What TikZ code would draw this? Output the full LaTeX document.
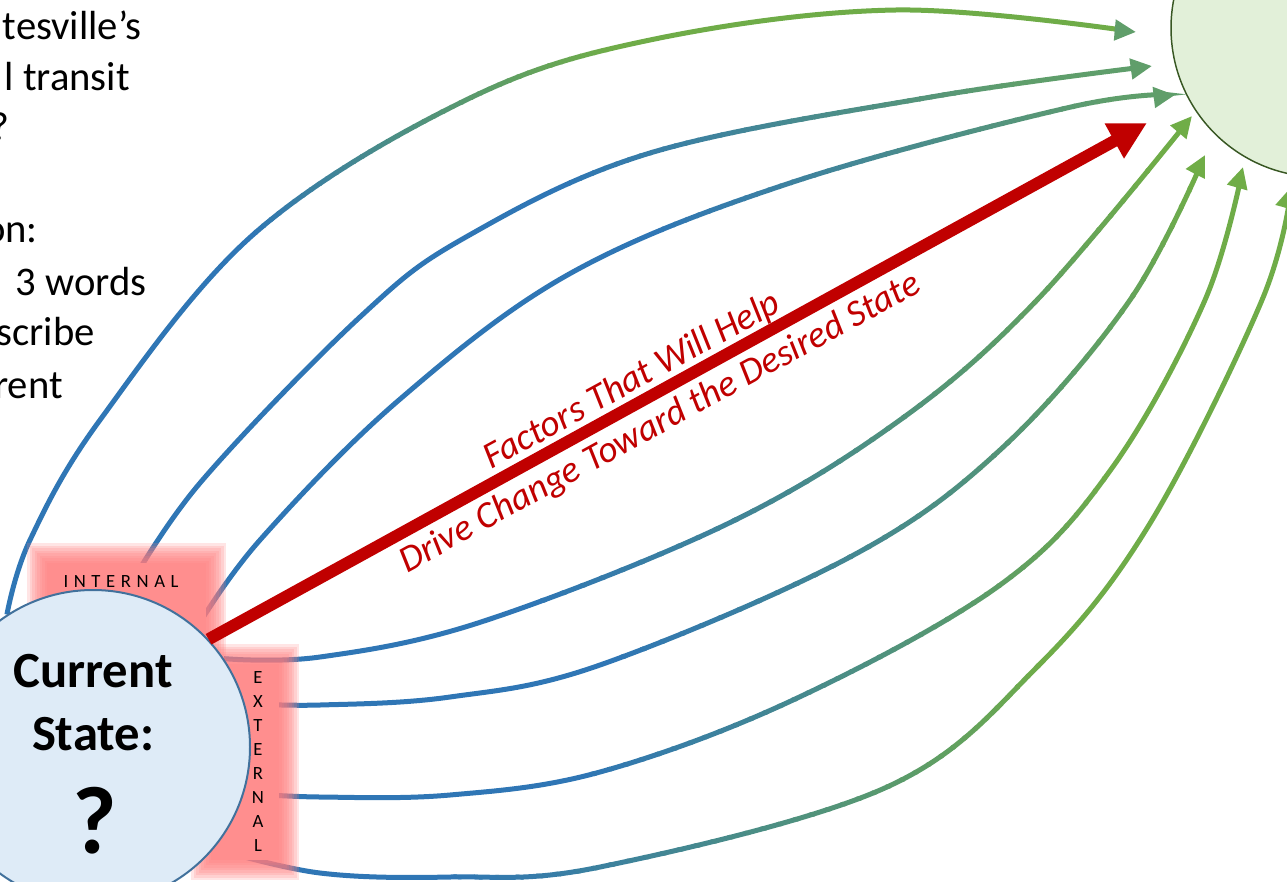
\documentclass[tikz,border=0pt]{standalone}
\usepackage{fontspec}
\setmainfont{Carlito}
\usetikzlibrary{arrows.meta,calc}

\definecolor{flowblue}{RGB}{46,117,182}
\definecolor{flowgreen}{RGB}{112,173,71}
\definecolor{flowsage}{RGB}{96,158,106}
\definecolor{pushred}{RGB}{192,0,0}
\definecolor{curfill}{RGB}{222,235,247}
\definecolor{curedge}{RGB}{65,113,156}
\definecolor{desfill}{RGB}{226,240,217}
\definecolor{desedge}{RGB}{56,87,35}
\definecolor{glowpink}{RGB}{255,125,125}
\definecolor{glowcore}{RGB}{255,142,142}

\pgfdeclarelayer{back}
\pgfsetlayers{back,main}

\tikzset{
  state/.style={circle, inner sep=0pt, line width=1.5pt},
  flowstroke/.style={line width=3.75pt, shorten >=10pt},
  flowtip/.style={line width=3.75pt, -{Triangle[length=16pt,width=15pt]}},
  push/.style={pushred, line width=9pt, -{Triangle[length=28pt,width=28pt]}},
  pushlbl/.style={text=pushred, font=\itshape\fontsize{28}{34}\selectfont, rotate=28.7, anchor=base, inner sep=0pt},
  lefttext/.style={font=\fontsize{30.5}{37}\selectfont, anchor=base east, inner sep=0pt},
  sidelbl/.style={font=\fontsize{14}{16}\selectfont, inner sep=0pt},
  glow/.style={glowpink, opacity=.2}
}

% #1 = points, #2 -> #3 = colour ramp (blue to #4)
\newcommand{\flowline}[4]{%
  \coordinate (gfar) at ($(#2)!3!(#3)$);
  \foreach \k in {0,...,39} {
    \pgfmathsetmacro\kf{ifthenelse(\k==0,-4,\k/40)}
    \pgfmathsetmacro\kg{ifthenelse(\k==39,2,(\k+1)/40+0.004)}
    \pgfmathsetmacro\kc{(\k+0.5)*2.5}
    \begin{scope}
      \clip ($(#2)!\kf!(#3)!3000pt!90:(gfar)$) -- ($(#2)!\kf!(#3)!3000pt!-90:(gfar)$)
        -- ($(#2)!\kg!(#3)!3000pt!-90:(gfar)$) -- ($(#2)!\kg!(#3)!3000pt!90:(gfar)$) -- cycle;
      \draw[flowstroke, #4!\kc!flowblue] plot[smooth, tension=0.6] coordinates {#1};
    \end{scope}
  }%
}

\begin{document}
\begin{tikzpicture}[x=0.75pt, y=-0.75pt]
  \useasboundingbox (0,0) rectangle (1287,881);

  % the two states
  \node[state, draw=curedge, fill=curfill, minimum size=235.5pt] (cur) at (93,747) {};
  \node[state, draw=desedge, fill=desfill, line width=1.1pt, minimum size=223.5pt] (des) at (1320,28) {};

  % arrow ends
  \coordinate (a1end) at (1136,32);
  \coordinate (a2end) at (1152,66);
  \coordinate (a3end) at (1175,95);
  \coordinate (l1end) at (1192,116);
  \coordinate (l2end) at (1205,155);
  \coordinate (l3end) at (1243,167);
  \coordinate (l4end) at (1291,187);
  \coordinate (redend) at (1147,123);

  % colour ramps
  \coordinate (a1s) at (258,249);  \coordinate (a1e) at (537,-30);
  \coordinate (a2s) at (557,150);  \coordinate (a2e) at (1024,150);
  \coordinate (a3s) at (650,200);  \coordinate (a3e) at (1120,200);
  \coordinate (l1s) at (546,632);  \coordinate (l1e) at (1090,88);
  \coordinate (l2s) at (643,705);  \coordinate (l2e) at (1187,161);
  \coordinate (l3s) at (645,848);  \coordinate (l3e) at (1069,424);
  \coordinate (l4s) at (554,996);  \coordinate (l4e) at (971,579);

  \coordinate (intnw) at (27,543);
  \coordinate (intse) at (226,664);
  \coordinate (extnw) at (191,644);
  \coordinate (extse) at (299,880);

  \begin{pgfonlayer}{back}
    \flowline{(cur.123) (30,540) (100,420) (255,233) (466,100) (650,40) (896,10) (a1end)}{a1s}{a1e}{flowgreen}
    \flowline{(cur.78) (200,483) (360,317) (466,237) (650,153) (931,97) (a2end)}{a2s}{a2e}{flowsage}
    \flowline{(cur.49) (260,540) (399,400) (571,273) (790,183) (1071,107) (a3end)}{a3s}{a3e}{flowsage}
    \flowline{(cur.34) (320,657) (481,622) (725,525) (900,420) (1037,300) (l1end)}{l1s}{l1e}{flowgreen}
    \flowline{(cur.16) (320,705) (450,697) (600,665) (850,557) (1000,450) (1130,300) (l2end)}{l2s}{l2e}{flowgreen}
    \flowline{(cur.-17) (320,797) (450,795) (600,772) (793,700) (1000,585) (1112,468) (1205,300) (l3end)}{l3s}{l3e}{flowgreen}
    \flowline{(cur.-40) (320,873) (450,877) (600,867) (887,787) (1037,667) (1149,525) (1262,300) (l4end)}{l4s}{l4e}{flowgreen}

    \draw[flowtip, flowsage] ($(a1end)!16pt!(896,10)$) -- (a1end);
    \draw[flowtip, flowsage] ($(a2end)!16pt!(931,97)$) -- (a2end);
    \draw[flowtip, flowsage] ($(a3end)!16pt!(1071,107)$) -- (a3end);
    \draw[flowtip, flowgreen] ($(l1end)!16pt!(1037,300)$) -- (l1end);
    \draw[flowtip, flowgreen] ($(l2end)!16pt!(1130,300)$) -- (l2end);
    \draw[flowtip, flowgreen] ($(l3end)!16pt!(1205,300)$) -- (l3end);
    \draw[flowtip, flowgreen] ($(l4end)!16pt!(1262,300)$) -- (l4end);

    % soft pink bands
    \foreach \g in {0,...,7} {
      \fill[glow] ([shift={(\g*2.5,\g*2.5)}]intnw) rectangle ([shift={(-\g*2.5,-\g*2.5)}]intse);
      \fill[glow] ([shift={(\g*2.5,\g*2.5)}]extnw) rectangle ([shift={(-\g*2.5,-\g*2.5)}]extse);
    }
    \fill[glowcore] ([shift={(20,20)}]intnw) rectangle ([shift={(-20,-20)}]intse);
    \fill[glowcore] ([shift={(20,20)}]extnw) rectangle ([shift={(-20,-20)}]extse);
  \end{pgfonlayer}

  \draw[push] (cur.43) -- (redend);
  \node[pushlbl] (pushup) at (637,390) {Factors That Will Help};
  \node[pushlbl] (pushdn) at (665,432) {Drive Change Toward the Desired State};

  \node[font=\bfseries\fontsize{38}{46}\selectfont, anchor=base] (cur1) at (93,687) {Current};
  \node[font=\bfseries\fontsize{38}{46}\selectfont, anchor=base] (cur2) at (93,750) {State:};
  \node[font=\bfseries\fontsize{72}{80}\selectfont, anchor=base] (cur3) at (95,853) {?};

  \node[sidelbl, font=\fontsize{14}{16}\selectfont\addfontfeature{LetterSpace=30}, anchor=base] (intlbl) at (121,587) {INTERNAL};
  \foreach \ch [count=\k] in {E,X,T,E,R,N,A,L}
    \node[sidelbl] (ext\k) at (258,653+24.1*\k) {\ch};

  % question text, cut by the left edge
  \node[lefttext] (q1) at (142,40) {tesville’s};
  \node[lefttext] (q2) at (130,90) {l transit};
  \node[lefttext] (q3) at (10,140) {?};
  \node[lefttext] (q4) at (38,242) {on:};
  \node[lefttext] (q5) at (147,295) {3 words};
  \node[lefttext] (q6) at (95,345) {scribe};
  \node[lefttext] (q7) at (63,398) {rent};
\end{tikzpicture}
\end{document}
